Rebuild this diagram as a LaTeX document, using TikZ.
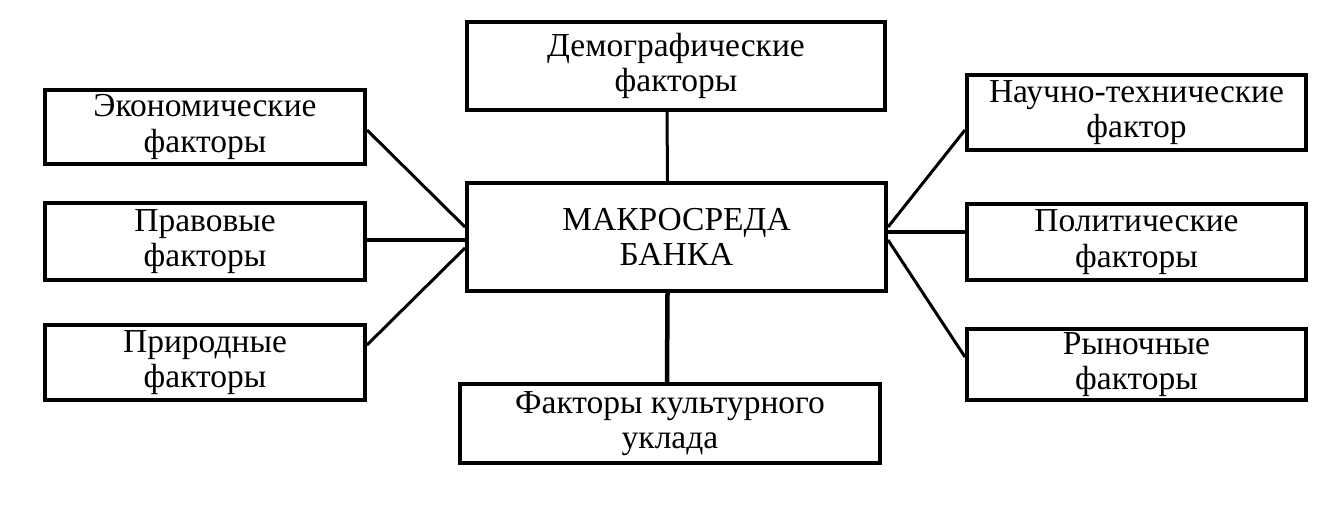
\documentclass[tikz,border=0pt]{standalone}
\usepackage{fontspec}
\setmainfont{Liberation Serif}
\usepackage{tikz}

\tikzset{
  factor/.style={draw, line width=4pt, align=center, inner sep=0pt,
    font=\fontsize{33.5}{35.5}\selectfont},
  thin link/.style={line width=3pt},
  thick link/.style={line width=4.5pt}
}

\begin{document}
\begin{tikzpicture}[x=1pt, y=1pt]

      \useasboundingbox (0, 0) rectangle (1324, -508);

      \node[factor, minimum width=418pt, minimum height=88pt] (demo) at (676, -66) {Демографические\\факторы};
      \node[factor, minimum width=419pt, minimum height=108pt] (macro) at (676.5, -237) {МАКРОСРЕДА\\БАНКА};
      \node[factor, minimum width=420pt, minimum height=79pt] (cult) at (670, -423.5) {Факторы культурного\\уклада};

      \node[factor, minimum width=320pt, minimum height=74pt] (econ) at (205, -127) {Экономические\\факторы};
      \node[factor, minimum width=320pt, minimum height=77pt] (law) at (205, -241.5) {Правовые\\факторы};
      \node[factor, minimum width=320pt, minimum height=75pt] (nat) at (205, -362.5) {Природные\\факторы};

      \node[factor, minimum width=339pt, minimum height=75pt] (tech) at (1136.5, -112.5) {Научно-технические\\фактор};
      \node[factor, minimum width=339pt, minimum height=76pt] (pol) at (1136.5, -242) {Политические\\факторы};
      \node[factor, minimum width=339pt, minimum height=71pt] (mark) at (1136.5, -364.5) {Рыночные\\факторы};

      \draw[thin link] ([xshift=-9pt]demo.south) -- ([xshift=-9pt]macro.north);
      \draw[thick link] ([xshift=-9pt]macro.south) -- ([xshift=-3pt]cult.north);

      \draw[thin link] ([yshift=-3pt]econ.east) -- ([yshift=10pt]macro.west);
      \draw[thick link] ([yshift=1.5pt]law.east) -- ([yshift=-3pt]macro.west);
      \draw[thin link] ([yshift=17.5pt]nat.east) -- ([yshift=-11pt]macro.west);

      \draw[thin link] ([yshift=10pt]macro.east) -- ([yshift=-17.5pt]tech.west);
      \draw[thick link] ([yshift=5pt]macro.east) -- ([yshift=10pt]pol.west);
      \draw[thin link] ([yshift=-3pt]macro.east) -- ([yshift=7.5pt]mark.west);

    \end{tikzpicture}
\end{document}
